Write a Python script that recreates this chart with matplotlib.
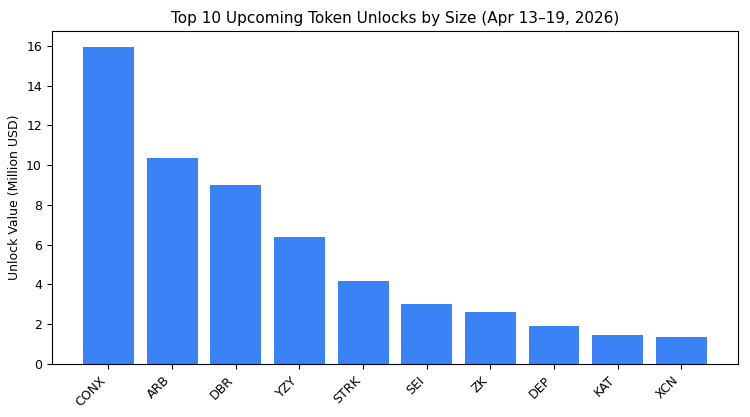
import matplotlib
matplotlib.use("Agg")
from matplotlib import pyplot as plt

tokens = ["CONX", "ARB", "DBR", "YZY", "STRK", "SEI", "ZK", "DEP", "KAT", "XCN"]
unlock_musd = [15.95, 10.37, 9.0, 6.38, 4.19, 3.01, 2.63, 1.9, 1.47, 1.37]

plt.rcParams["font.size"] = 9

fig, ax = plt.subplots(figsize=(7.5, 4.17), dpi=100)
ax.bar(tokens, unlock_musd, color="#3b82f6")

ax.set_title("Top 10 Upcoming Token Unlocks by Size (Apr 13\u201319, 2026)", fontsize=11)
ax.set_ylabel("Unlock Value (Million USD)")
plt.setp(ax.get_xticklabels(), rotation=45, ha="right")

fig.subplots_adjust(left=0.069, right=0.984, top=0.926, bottom=0.127)
plt.savefig("out.png")
